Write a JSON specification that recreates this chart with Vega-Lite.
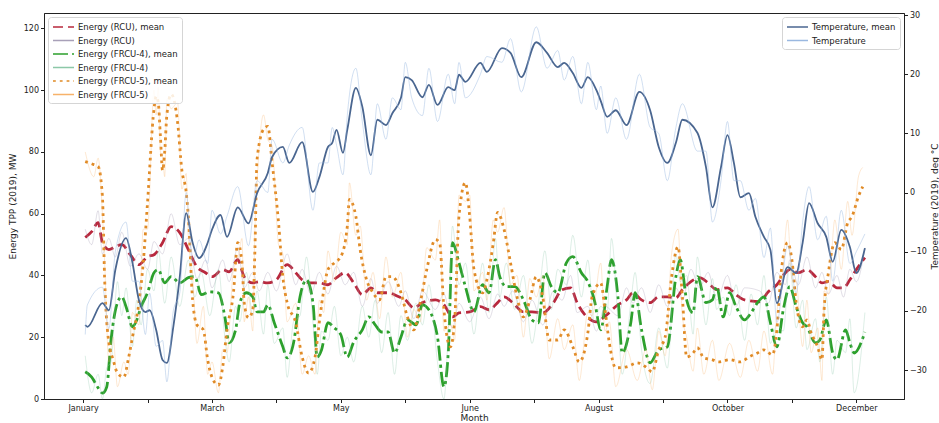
{
"$schema": "https://vega.github.io/schema/vega-lite/v6.json",
"width": 860, "height": 386,
"autosize": {"type": "none"},
"padding": {"left": 44, "top": 13, "right": 35, "bottom": 24},
"background": "white",
"config": {
 "font": "DejaVu Sans",
 "view": {"stroke": "#222", "strokeWidth": 1},
 "axis": {"grid": false, "domainColor": "#222", "tickColor": "#222", "labelColor": "#222", "titleColor": "#222", "labelFont": "DejaVu Sans", "titleFont": "DejaVu Sans", "labelFontSize": 8, "titleFontSize": 9, "titleFontWeight": "normal", "tickSize": 3.5, "labelPadding": 2, "labelFlush": false, "labelOverlap": false},
 "legend": {"labelFont": "DejaVu Sans", "labelFontSize": 8.5, "labelColor": "#222", "fillColor": "rgba(255,255,255,0.85)", "strokeColor": "#d5d5d5", "cornerRadius": 3, "padding": 4, "rowPadding": 2.5, "offset": 4, "symbolType": "M-1,0H3.2", "symbolSize": 100, "labelOffset": 14, "title": null}
},
"datasets": {
"t": [{"x":1,"g":-22.4,"h":-24},{"x":2,"g":-22.7,"h":-19},{"x":9,"g":-18.7,"h":-16},{"x":12,"g":-19.9,"h":-23},{"x":15,"g":-13.1,"h":-10},{"x":20,"g":-7.7,"h":-5},{"x":23,"g":-11.9,"h":-15},{"x":26,"g":-18.2,"h":-15},{"x":29,"g":-20.2,"h":-24},{"x":31,"g":-19.9,"h":-17},{"x":34,"g":-23.2,"h":-26},{"x":37,"g":-28.3,"h":-25},{"x":39,"g":-28.8,"h":-32},{"x":42,"g":-22.7,"h":-20},{"x":45,"g":-14.3,"h":-17},{"x":48,"g":-3.5,"h":0},{"x":51,"g":-8.5,"h":-12},{"x":54,"g":-11.1,"h":-8},{"x":58,"g":-8.5,"h":-12},{"x":60,"g":-6.3,"h":-3},{"x":64,"g":-3.8,"h":-7},{"x":67,"g":-7.5,"h":-4},{"x":72,"g":-2.5,"h":1},{"x":77,"g":-5.2,"h":-9},{"x":81,"g":-0.1,"h":2},{"x":86,"g":3.3,"h":0},{"x":88,"g":6.0,"h":9},{"x":93,"g":7.7,"h":5},{"x":96,"g":5.0,"h":8},{"x":102,"g":8.5,"h":11},{"x":107,"g":0.1,"h":-3},{"x":110,"g":2.6,"h":5},{"x":114,"g":7.7,"h":5},{"x":116,"g":8.4,"h":11},{"x":118,"g":10.6,"h":8},{"x":121,"g":6.7,"h":3},{"x":123,"g":10.6,"h":13},{"x":127,"g":17.7,"h":21},{"x":130,"g":14.5,"h":12},{"x":134,"g":6.3,"h":3},{"x":137,"g":12.3,"h":15},{"x":141,"g":11.4,"h":9},{"x":144,"g":13.4,"h":16},{"x":148,"g":16.0,"h":14},{"x":150,"g":19.5,"h":22},{"x":153,"g":19.0,"h":16},{"x":158,"g":16.1,"h":13},{"x":161,"g":18.2,"h":21},{"x":165,"g":14.8,"h":12},{"x":170,"g":17.8,"h":20},{"x":173,"g":17.3,"h":15},{"x":175,"g":19.9,"h":22},{"x":178,"g":18.7,"h":16},{"x":185,"g":21.9,"h":20},{"x":188,"g":20.4,"h":23},{"x":195,"g":24.4,"h":22},{"x":199,"g":23.6,"h":26},{"x":204,"g":19.5,"h":17},{"x":211,"g":25.4,"h":28},{"x":216,"g":23.6,"h":21},{"x":221,"g":21.2,"h":24},{"x":224,"g":21.9,"h":19},{"x":228,"g":20.2,"h":23},{"x":232,"g":17.7,"h":15},{"x":235,"g":19.5,"h":22},{"x":239,"g":17.3,"h":14},{"x":241,"g":15.5,"h":18},{"x":244,"g":12.8,"h":10},{"x":248,"g":13.9,"h":16},{"x":253,"g":11.4,"h":9},{"x":259,"g":17.0,"h":20},{"x":264,"g":13.9,"h":11},{"x":268,"g":7.7,"h":10},{"x":272,"g":5.0,"h":2},{"x":276,"g":8.4,"h":11},{"x":279,"g":12.3,"h":15},{"x":286,"g":10.1,"h":7},{"x":290,"g":4.3,"h":7},{"x":293,"g":-2.5,"h":-5},{"x":297,"g":4.3,"h":2},{"x":300,"g":9.7,"h":12},{"x":303,"g":5.0,"h":2},{"x":306,"g":-0.8,"h":2},{"x":310,"g":-0.1,"h":-3},{"x":313,"g":-4.1,"h":-1},{"x":317,"g":-7.5,"h":-11},{"x":320,"g":-9.7,"h":-6},{"x":323,"g":-18.7,"h":-22},{"x":328,"g":-12.6,"h":-9},{"x":332,"g":-13.6,"h":-17},{"x":335,"g":-8.5,"h":-5},{"x":338,"g":-1.8,"h":1},{"x":342,"g":-5.2,"h":-8},{"x":346,"g":-7.5,"h":-4},{"x":349,"g":-11.7,"h":-15},{"x":353,"g":-6.3,"h":-3},{"x":357,"g":-9.2,"h":-12},{"x":360,"g":-13.6,"h":-10},{"x":364,"g":-9.4,"h":-7}],
"rc": [{"x":1,"a":52.3,"b":55},{"x":4,"a":54.2,"b":50},{"x":7,"a":57.1,"b":61},{"x":9,"a":50.6,"b":47},{"x":12,"a":48.4,"b":52},{"x":15,"a":49.3,"b":46},{"x":18,"a":50.0,"b":54},{"x":22,"a":46.7,"b":43},{"x":26,"a":43.5,"b":47},{"x":30,"a":46.1,"b":42},{"x":33,"a":46.7,"b":51},{"x":37,"a":50.6,"b":47},{"x":41,"a":55.8,"b":60},{"x":45,"a":53.9,"b":50},{"x":49,"a":48.4,"b":52},{"x":53,"a":42.8,"b":39},{"x":57,"a":40.9,"b":45},{"x":60,"a":39.6,"b":36},{"x":65,"a":41.9,"b":45},{"x":68,"a":41.2,"b":38},{"x":72,"a":45.1,"b":49},{"x":75,"a":39.6,"b":36},{"x":79,"a":37.6,"b":41},{"x":82,"a":38.0,"b":35},{"x":86,"a":37.6,"b":41},{"x":90,"a":38.6,"b":35},{"x":95,"a":43.5,"b":47},{"x":99,"a":40.9,"b":37},{"x":102,"a":38.6,"b":42},{"x":106,"a":37.6,"b":34},{"x":110,"a":37.6,"b":41},{"x":114,"a":37.0,"b":34},{"x":118,"a":39.3,"b":43},{"x":122,"a":40.9,"b":37},{"x":126,"a":37.6,"b":41},{"x":130,"a":33.8,"b":30},{"x":134,"a":36.0,"b":39},{"x":137,"a":34.4,"b":31},{"x":142,"a":34.4,"b":38},{"x":147,"a":33.1,"b":30},{"x":150,"a":32.1,"b":35},{"x":154,"a":29.5,"b":26},{"x":158,"a":31.2,"b":35},{"x":164,"a":32.1,"b":29},{"x":168,"a":30.5,"b":34},{"x":172,"a":26.6,"b":23},{"x":175,"a":27.9,"b":31},{"x":180,"a":28.2,"b":25},{"x":185,"a":29.9,"b":33},{"x":189,"a":28.9,"b":26},{"x":193,"a":31.2,"b":34},{"x":196,"a":33.1,"b":30},{"x":200,"a":31.2,"b":35},{"x":205,"a":28.2,"b":25},{"x":209,"a":28.2,"b":32},{"x":214,"a":27.9,"b":24},{"x":219,"a":31.2,"b":35},{"x":223,"a":35.4,"b":32},{"x":227,"a":36.0,"b":40},{"x":230,"a":31.2,"b":28},{"x":235,"a":26.3,"b":30},{"x":239,"a":25.0,"b":22},{"x":243,"a":26.8,"b":30},{"x":249,"a":30.5,"b":27},{"x":253,"a":32.1,"b":36},{"x":256,"a":34.4,"b":31},{"x":260,"a":32.1,"b":36},{"x":264,"a":31.2,"b":28},{"x":268,"a":33.1,"b":37},{"x":272,"a":33.1,"b":30},{"x":276,"a":32.8,"b":36},{"x":279,"a":35.4,"b":32},{"x":283,"a":38.0,"b":42},{"x":287,"a":39.3,"b":36},{"x":291,"a":37.6,"b":41},{"x":295,"a":35.4,"b":32},{"x":300,"a":36.0,"b":40},{"x":304,"a":33.8,"b":30},{"x":308,"a":32.1,"b":36},{"x":315,"a":31.5,"b":35},{"x":319,"a":34.7,"b":31},{"x":323,"a":37.0,"b":41},{"x":327,"a":40.9,"b":37},{"x":329,"a":41.9,"b":45},{"x":333,"a":40.9,"b":37},{"x":337,"a":41.9,"b":46},{"x":341,"a":39.6,"b":36},{"x":344,"a":37.6,"b":41},{"x":347,"a":38.0,"b":34},{"x":351,"a":36.0,"b":40},{"x":354,"a":36.0,"b":33},{"x":357,"a":38.6,"b":42},{"x":360,"a":41.9,"b":38},{"x":364,"a":45.8,"b":49}],
"f4": [{"x":1,"c":8.8,"d":14},{"x":4,"c":7.1,"d":2},{"x":7,"c":3.6,"d":8},{"x":9,"c":1.9,"d":0},{"x":11,"c":3.9,"d":10},{"x":13,"c":19.1,"d":12},{"x":16,"c":31.2,"d":38},{"x":18,"c":33.1,"d":27},{"x":20,"c":29.9,"d":36},{"x":23,"c":23.4,"d":17},{"x":25,"c":25.6,"d":32},{"x":27,"c":29.9,"d":24},{"x":30,"c":34.4,"d":42},{"x":33,"c":40.9,"d":35},{"x":35,"c":41.9,"d":48},{"x":38,"c":37.6,"d":31},{"x":41,"c":39.6,"d":46},{"x":45,"c":37.6,"d":30},{"x":49,"c":39.3,"d":45},{"x":52,"c":39.6,"d":33},{"x":55,"c":33.8,"d":41},{"x":59,"c":34.7,"d":27},{"x":63,"c":34.4,"d":42},{"x":66,"c":26.6,"d":20},{"x":68,"c":18.2,"d":12},{"x":71,"c":22.4,"d":30},{"x":73,"c":31.2,"d":25},{"x":76,"c":34.4,"d":41},{"x":79,"c":33.1,"d":27},{"x":81,"c":28.2,"d":35},{"x":84,"c":28.2,"d":21},{"x":86,"c":30.5,"d":37},{"x":89,"c":24.7,"d":18},{"x":93,"c":16.9,"d":23},{"x":95,"c":13.3,"d":7},{"x":98,"c":18.2,"d":25},{"x":101,"c":33.1,"d":27},{"x":104,"c":38.6,"d":46},{"x":107,"c":31.2,"d":25},{"x":109,"c":13.6,"d":8},{"x":111,"c":15.9,"d":22},{"x":114,"c":24.7,"d":19},{"x":117,"c":23.0,"d":30},{"x":120,"c":20.8,"d":14},{"x":123,"c":13.6,"d":20},{"x":126,"c":18.5,"d":12},{"x":130,"c":22.4,"d":30},{"x":133,"c":26.6,"d":20},{"x":136,"c":24.0,"d":32},{"x":139,"c":21.7,"d":15},{"x":142,"c":21.7,"d":28},{"x":145,"c":14.9,"d":8},{"x":148,"c":20.1,"d":27},{"x":151,"c":25.6,"d":19},{"x":155,"c":24.0,"d":31},{"x":158,"c":30.5,"d":24},{"x":161,"c":28.9,"d":37},{"x":165,"c":20.1,"d":12},{"x":168,"c":3.9,"d":0},{"x":170,"c":14.9,"d":22},{"x":172,"c":50.6,"d":56},{"x":175,"c":44.1,"d":37},{"x":178,"c":36.4,"d":44},{"x":182,"c":28.2,"d":21},{"x":186,"c":37.0,"d":44},{"x":189,"c":34.4,"d":28},{"x":192,"c":45.1,"d":52},{"x":194,"c":39.6,"d":33},{"x":197,"c":36.4,"d":44},{"x":201,"c":36.4,"d":29},{"x":205,"c":32.1,"d":40},{"x":209,"c":25.6,"d":18},{"x":212,"c":24.7,"d":31},{"x":215,"c":40.9,"d":48},{"x":218,"c":36.4,"d":29},{"x":221,"c":34.4,"d":42},{"x":225,"c":44.1,"d":37},{"x":228,"c":46.1,"d":53},{"x":232,"c":40.9,"d":33},{"x":235,"c":38.0,"d":45},{"x":238,"c":32.1,"d":25},{"x":241,"c":22.4,"d":30},{"x":244,"c":36.4,"d":28},{"x":246,"c":45.1,"d":52},{"x":249,"c":33.1,"d":26},{"x":251,"c":14.9,"d":8},{"x":255,"c":24.7,"d":31},{"x":257,"c":34.4,"d":41},{"x":260,"c":22.4,"d":16},{"x":264,"c":11.7,"d":5},{"x":268,"c":15.9,"d":23},{"x":272,"c":16.9,"d":10},{"x":276,"c":39.6,"d":47},{"x":278,"c":45.1,"d":38},{"x":281,"c":32.1,"d":40},{"x":284,"c":27.9,"d":21},{"x":286,"c":39.6,"d":46},{"x":290,"c":31.2,"d":24},{"x":293,"c":32.1,"d":39},{"x":295,"c":36.4,"d":29},{"x":298,"c":26.6,"d":33},{"x":301,"c":34.4,"d":27},{"x":304,"c":29.9,"d":37},{"x":308,"c":25.6,"d":19},{"x":311,"c":27.9,"d":34},{"x":314,"c":31.2,"d":24},{"x":317,"c":33.1,"d":40},{"x":320,"c":24.7,"d":18},{"x":323,"c":16.9,"d":24},{"x":326,"c":28.9,"d":22},{"x":329,"c":36.4,"d":44},{"x":332,"c":29.9,"d":23},{"x":335,"c":24.7,"d":32},{"x":337,"c":23.4,"d":16},{"x":341,"c":18.2,"d":26},{"x":343,"c":19.1,"d":12},{"x":346,"c":25.6,"d":33},{"x":349,"c":14.9,"d":8},{"x":351,"c":12.7,"d":19},{"x":355,"c":22.4,"d":15},{"x":357,"c":18.2,"d":26},{"x":359,"c":14.9,"d":2},{"x":364,"c":21.7,"d":28}],
"f5": [{"x":1,"e":76.9,"f":80},{"x":5,"e":75.9,"f":72},{"x":7,"e":75.3,"f":78},{"x":9,"e":65.6,"f":60},{"x":10,"e":39.6,"f":45},{"x":12,"e":18.2,"f":12},{"x":14,"e":12.7,"f":20},{"x":16,"e":8.4,"f":4},{"x":19,"e":7.1,"f":12},{"x":21,"e":12.7,"f":8},{"x":23,"e":20.1,"f":28},{"x":26,"e":31.2,"f":24},{"x":28,"e":44.1,"f":55},{"x":30,"e":63.6,"f":55},{"x":33,"e":93.8,"f":100},{"x":34,"e":98.0,"f":92},{"x":35,"e":96,"f":101},{"x":36,"e":85,"f":80},{"x":37,"e":74,"f":78},{"x":38,"e":80,"f":72},{"x":39,"e":92,"f":97},{"x":41,"e":98.7,"f":94},{"x":44,"e":89.6,"f":96},{"x":46,"e":74,"f":68},{"x":48,"e":67,"f":73},{"x":49,"e":59.1,"f":52},{"x":51,"e":32.1,"f":40},{"x":53,"e":24.0,"f":18},{"x":56,"e":22.4,"f":30},{"x":58,"e":12.7,"f":8},{"x":60,"e":7.1,"f":12},{"x":63,"e":4.5,"f":2},{"x":65,"e":10.4,"f":16},{"x":67,"e":22.4,"f":15},{"x":70,"e":34.4,"f":42},{"x":72,"e":50.6,"f":45},{"x":74,"e":44.1,"f":52},{"x":75,"e":31.2,"f":25},{"x":77,"e":26.3,"f":33},{"x":79,"e":28.9,"f":22},{"x":80,"e":48.4,"f":55},{"x":81,"e":77.6,"f":70},{"x":84,"e":87.3,"f":92},{"x":86,"e":88.3,"f":84},{"x":88,"e":76.6,"f":82},{"x":91,"e":57.1,"f":50},{"x":93,"e":39.6,"f":47},{"x":95,"e":31.2,"f":25},{"x":99,"e":24.7,"f":31},{"x":102,"e":13.6,"f":8},{"x":105,"e":8.4,"f":14},{"x":108,"e":13.6,"f":8},{"x":110,"e":25,"f":32},{"x":112,"e":35,"f":28},{"x":114,"e":41.9,"f":48},{"x":117,"e":44.1,"f":38},{"x":120,"e":46.1,"f":54},{"x":123,"e":55.8,"f":50},{"x":124,"e":64.6,"f":70},{"x":127,"e":59.1,"f":53},{"x":129,"e":48.4,"f":56},{"x":132,"e":38.6,"f":32},{"x":135,"e":34.4,"f":41},{"x":138,"e":32.1,"f":26},{"x":141,"e":39.6,"f":46},{"x":144,"e":39.6,"f":33},{"x":148,"e":34.4,"f":41},{"x":151,"e":26.6,"f":20},{"x":154,"e":22.4,"f":29},{"x":157,"e":31.2,"f":25},{"x":160,"e":41.9,"f":49},{"x":164,"e":51.6,"f":45},{"x":166,"e":50.6,"f":58},{"x":168,"e":28.9,"f":22},{"x":171,"e":16.9,"f":24},{"x":173,"e":25.6,"f":19},{"x":175,"e":59.1,"f":66},{"x":178,"e":70.1,"f":64},{"x":180,"e":59.1,"f":66},{"x":182,"e":41.9,"f":35},{"x":186,"e":34.4,"f":41},{"x":188,"e":38.6,"f":32},{"x":191,"e":50.6,"f":58},{"x":193,"e":60.4,"f":54},{"x":196,"e":54.9,"f":62},{"x":199,"e":44.1,"f":37},{"x":202,"e":33.1,"f":40},{"x":205,"e":26.6,"f":20},{"x":208,"e":32.1,"f":39},{"x":211,"e":39.6,"f":33},{"x":214,"e":33.1,"f":40},{"x":217,"e":19.1,"f":13},{"x":221,"e":19.1,"f":26},{"x":224,"e":22.4,"f":16},{"x":228,"e":16.9,"f":24},{"x":231,"e":12.0,"f":6},{"x":235,"e":21.4,"f":28},{"x":237,"e":33.1,"f":27},{"x":241,"e":37.6,"f":44},{"x":243,"e":28.9,"f":22},{"x":245,"e":18.2,"f":25},{"x":248,"e":10.1,"f":4},{"x":253,"e":10.4,"f":16},{"x":258,"e":11.7,"f":6},{"x":262,"e":10.4,"f":16},{"x":265,"e":8.8,"f":3},{"x":268,"e":15.9,"f":22},{"x":271,"e":20.1,"f":14},{"x":274,"e":39.6,"f":47},{"x":277,"e":49.3,"f":55},{"x":279,"e":33.1,"f":27},{"x":281,"e":13.6,"f":20},{"x":284,"e":14.9,"f":9},{"x":286,"e":16.6,"f":23},{"x":289,"e":13.3,"f":8},{"x":293,"e":12.7,"f":19},{"x":296,"e":12.0,"f":6},{"x":301,"e":12.7,"f":18},{"x":306,"e":12.0,"f":7},{"x":310,"e":13.6,"f":19},{"x":314,"e":14.9,"f":9},{"x":317,"e":15.9,"f":22},{"x":321,"e":14.3,"f":8},{"x":323,"e":22.4,"f":28},{"x":325,"e":40.9,"f":35},{"x":328,"e":50.6,"f":58},{"x":330,"e":45.1,"f":39},{"x":332,"e":31.2,"f":38},{"x":335,"e":23.4,"f":17},{"x":337,"e":25.6,"f":32},{"x":339,"e":21.4,"f":15},{"x":342,"e":16.9,"f":23},{"x":344,"e":12.7,"f":6},{"x":345,"e":28.9,"f":35},{"x":347,"e":40.9,"f":34},{"x":350,"e":50.6,"f":58},{"x":353,"e":48.4,"f":42},{"x":356,"e":57.1,"f":64},{"x":358,"e":59.1,"f":53},{"x":361,"e":65.6,"f":72},{"x":363,"e":68.8,"f":75}]
},
"layer": [
 {
  "layer": [
   {"data": {"name": "rc"}, "transform": [{"fold": ["a","b"], "as": ["s","v"]}],
    "mark": {"type": "line", "interpolate": "monotone"},
    "encoding": {
     "x": {"field": "x", "type": "quantitative", "scale": {"domain": [-18.2, 382.2], "nice": false, "zero": false},
      "axis": {"values": [0,30,60,90,120,150,180,210,240,270,300,330,360], "title": "Month", "titlePadding": 1,
       "labelExpr": "datum.value==0?'January':datum.value==60?'March':datum.value==120?'May':datum.value==180?'June':datum.value==240?'August':datum.value==300?'October':datum.value==360?'December':''"}},
     "y": {"field": "v", "type": "quantitative", "scale": {"domain": [0,125], "nice": false, "zero": false},
      "axis": {"values": [0,20,40,60,80,100,120], "title": "Energy TPP (2019), MW", "titlePadding": 6}},
     "color": {"field": "s", "type": "nominal",
      "scale": {"domain": ["a","b","c","d","e","f"], "range": ["#b8283d","#a8a0b8","#2ca02c","#8cc8a8","#e08a25","#f7b26a"]},
      "legend": {"orient": "top-left",
       "labelExpr": "datum.value=='a'?'Energy (RCU), mean':datum.value=='b'?'Energy (RCU)':datum.value=='c'?'Energy (FRCU-4), mean':datum.value=='d'?'Energy (FRCU-4)':datum.value=='e'?'Energy (FRCU-5), mean':'Energy (FRCU-5)'",
       "encode": {"symbols": {"update": {
        "strokeWidth": {"signal": "(datum.value=='a'||datum.value=='c'||datum.value=='e') ? 2.6 : 1"},
        "strokeDash": {"signal": "datum.value=='a' ? [8,4] : datum.value=='e' ? [2.6,3.4] : [1,0]"},
        "opacity": {"signal": "(datum.value=='a'||datum.value=='c'||datum.value=='e') ? 1 : 0.45"}}}}}},
     "strokeDash": {"field": "s", "type": "nominal",
      "scale": {"domain": ["a","b","c","d","e","f"], "range": [[10,5],[1,0],[15,4,3,4],[1,0],[2.8,4],[1,0]]}, "legend": null},
     "strokeWidth": {"condition": {"test": "datum.s=='b'", "value": 1}, "value": 2.8},
     "opacity": {"condition": {"test": "datum.s=='b'", "value": 0.35}, "value": 1}
    }},
   {"data": {"name": "f4"}, "transform": [{"fold": ["c","d"], "as": ["s","v"]}],
    "mark": {"type": "line", "interpolate": "monotone"},
    "encoding": {
     "x": {"field": "x", "type": "quantitative"},
     "y": {"field": "v", "type": "quantitative"},
     "color": {"field": "s", "type": "nominal"},
     "strokeDash": {"field": "s", "type": "nominal", "legend": null},
     "strokeWidth": {"condition": {"test": "datum.s=='d'", "value": 1}, "value": 2.8},
     "opacity": {"condition": {"test": "datum.s=='d'", "value": 0.3}, "value": 1}
    }},
   {"data": {"name": "f5"}, "transform": [{"fold": ["e","f"], "as": ["s","v"]}],
    "mark": {"type": "line", "interpolate": "monotone"},
    "encoding": {
     "x": {"field": "x", "type": "quantitative"},
     "y": {"field": "v", "type": "quantitative"},
     "color": {"field": "s", "type": "nominal"},
     "strokeDash": {"field": "s", "type": "nominal", "legend": null},
     "strokeWidth": {"condition": {"test": "datum.s=='f'", "value": 1}, "value": 2.8},
     "opacity": {"condition": {"test": "datum.s=='f'", "value": 0.3}, "value": 1}
    }}
  ]
 },
 {
  "data": {"name": "t"}, "transform": [{"fold": ["g","h"], "as": ["s","v"]}],
  "mark": {"type": "line", "interpolate": "monotone"},
  "encoding": {
   "x": {"field": "x", "type": "quantitative"},
   "y": {"field": "v", "type": "quantitative", "scale": {"domain": [-34.9, 30.34], "nice": false, "zero": false},
    "axis": {"orient": "right", "values": [-30,-20,-10,0,10,20,30], "title": "Temperature (2019), deg °C", "titleAngle": 270, "titleBaseline": "top", "titlePadding": 4}},
   "color": {"field": "s", "type": "nominal", "scale": {"domain": ["g","h"], "range": ["#4a6690","#9ab8e0"]},
    "legend": {"orient": "top-right",
     "labelExpr": "datum.value=='g'?'Temperature, mean':'Temperature'",
     "encode": {"symbols": {"update": {
       "strokeWidth": {"signal": "datum.value=='g' ? 1.8 : 1"},
       "opacity": {"signal": "datum.value=='g' ? 1 : 0.5"}}}}}},
   "strokeWidth": {"condition": {"test": "datum.s=='h'", "value": 1}, "value": 1.8},
   "opacity": {"condition": {"test": "datum.s=='h'", "value": 0.45}, "value": 1}
  }
 }
],
"resolve": {"scale": {"y": "independent", "color": "independent", "strokeDash": "independent", "opacity": "independent", "strokeWidth": "independent"}, "legend": {"color": "independent"}}
}
